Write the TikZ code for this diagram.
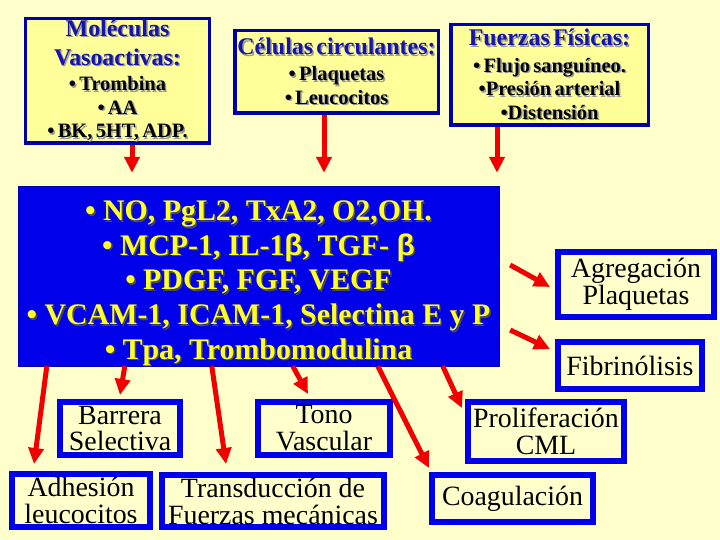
\documentclass[tikz,border=0pt]{standalone}
\usepackage{fontspec}
\setmainfont{Liberation Serif}
\newfontfamily\griega{Liberation Sans}
\usetikzlibrary{arrows.meta,calc}

\definecolor{fondo}{RGB}{255,255,204}
\definecolor{amarillo}{RGB}{255,255,153}
\definecolor{azul}{RGB}{0,0,235}
\definecolor{azuloscuro}{RGB}{0,0,170}
\definecolor{titulo}{RGB}{20,20,170}
\definecolor{rojo}{RGB}{240,0,0}
\definecolor{letra}{RGB}{255,255,40}

\newcommand{\sombra}[2][black!40]{\leavevmode\rlap{\kern1.5bp\raisebox{-1.5bp}{\textcolor{#1}{#2}}}#2}
\newcommand{\titfont}{\leavevmode\fontsize{24}{29}\selectfont\bfseries\color{titulo}}
\newcommand{\itemfont}{\leavevmode\fontsize{20.5}{23.5}\selectfont\bfseries\color{black}}

\tikzset{
  cajasup/.style={draw=azuloscuro, line width=3.5bp, fill=amarillo, inner sep=0pt, align=center},
  cajainf/.style={draw=azul, line width=6bp, fill=fondo, inner sep=0pt, align=center,
    font=\fontsize{28}{27}\selectfont},
  flecha/.style={draw=rojo, line width=5bp, -{Triangle[width=15bp,length=16bp]}},
}

\begin{document}
\begin{tikzpicture}[x=1bp,y=-1bp]
\fill[fondo] (0,0) rectangle (720,540);
\useasboundingbox (0,0) rectangle (720,540);

% estimulos
\node[cajasup, text width=183.5bp, minimum height=124.5bp] (mol) at (117.5,81)
  {\titfont \sombra{Moléculas}\\ \sombra{Vasoactivas:}\par\vspace{2bp}
   \itemfont \sombra{• Trombina}\\ \sombra{• AA}\\ \sombra{• BK, 5HT, ADP.}\par};
\node[cajasup, text width=203.5bp, minimum height=82.5bp] (cel) at (336.5,72)
  {\titfont \sombra{Células circulantes:}\par\vspace{3bp}
   \itemfont \sombra{• Plaquetas}\\ \sombra{• Leucocitos}\par};
\node[cajasup, text width=197.5bp, minimum height=100.5bp] (fue) at (549.5,75)
  {\titfont \sombra{Fuerzas Físicas:}\par\vspace{3bp}
   \itemfont \sombra{• Flujo sanguíneo.}\\ \sombra{•Presión arterial}\\ \sombra{•Distensión}\par};

% endotelio
\node[fill=azul, draw=azuloscuro, minimum width=481bp, minimum height=180bp, inner sep=0pt]
  (endotelio) at (258.5,276) {};
\node[inner sep=0pt, align=center, text=letra, font=\fontsize{30}{34.8}\selectfont\bfseries]
  (mediadores) at ($(endotelio.center)+(0,8)$)
  {\sombra[black!70]{• NO, PgL2, TxA2, O2,OH.}\\
   \sombra[black!70]{• MCP-1, IL-1{\griega β}, TGF- {\griega β}}\\
   \sombra[black!70]{• PDGF, FGF, VEGF}\\
   \sombra[black!70]{• VCAM-1, ICAM-1, Selectina E y P}\\
   \sombra[black!70]{• Tpa, Trombomodulina}};

% respuestas
\node[cajainf, minimum width=120bp, minimum height=53bp] (barrera) at (120,428.5) {Barrera\\Selectiva};
\node[cajainf, minimum width=138bp, minimum height=53bp] (adhesion) at (81,500.5) {Adhesión\\leucocitos};
\node[cajainf, minimum width=222bp, minimum height=52bp] (transd) at (273,501) {Transducción de\\Fuerzas mecánicas};
\node[cajainf, minimum width=132bp, minimum height=53bp] (tono) at (324,428.5) {Tono\\Vascular};
\node[cajainf, minimum width=161bp, minimum height=47bp] (coag) at (512.5,498.5) {Coagulación};
\node[cajainf, minimum width=156bp, minimum height=59bp] (prolif) at (546,431.5) {Proliferación\\CML};
\node[cajainf, minimum width=156bp, minimum height=65bp] (agreg) at (636,284.5) {Agregación\\Plaquetas};
\node[cajainf, minimum width=144bp, minimum height=47bp] (fibrin) at (630,365.5) {Fibrinólisis};

% flechas de entrada
\coordinate (m1) at ($(mol.south)+(14.5,0)$);
\coordinate (c1) at ($(cel.south)+(-12.5,0)$);
\coordinate (f1) at ($(fue.south)+(-52.5,0)$);
\draw[flecha, shorten >=13bp] (m1) -- (m1 |- endotelio.north);
\draw[flecha, shorten >=13bp] (c1) -- (c1 |- endotelio.north);
\draw[flecha, shorten >=13bp] (f1) -- (f1 |- endotelio.north);

% flechas de salida
\draw[flecha] ($(endotelio.south west)+(29,0)$) -- ($(adhesion.north west)+(25,-7)$);
\draw[flecha] ($(endotelio.south west)+(107,0)$) -- ($(barrera.north)+(0,-4)$);
\draw[flecha] ($(endotelio.south west)+(194,0)$) -- ($(transd.north west)+(67,-8)$);
\draw[flecha] ($(endotelio.south west)+(275,0)$) -- ($(tono.north west)+(53,-5)$);
\draw[flecha] ($(endotelio.south west)+(360,0)$) -- ($(coag.north west)+(0,-4)$);
\draw[flecha] ($(endotelio.south west)+(425,0)$) -- ($(prolif.north west)+(-3,9)$);
\draw[flecha] ($(endotelio.east)+(11,-11)$) -- ($(agreg.west)+(-5,2.5)$);
\draw[flecha] ($(endotelio.east)+(11,54)$) -- ($(fibrin.north west)+(-5,10)$);
\end{tikzpicture}
\end{document}
